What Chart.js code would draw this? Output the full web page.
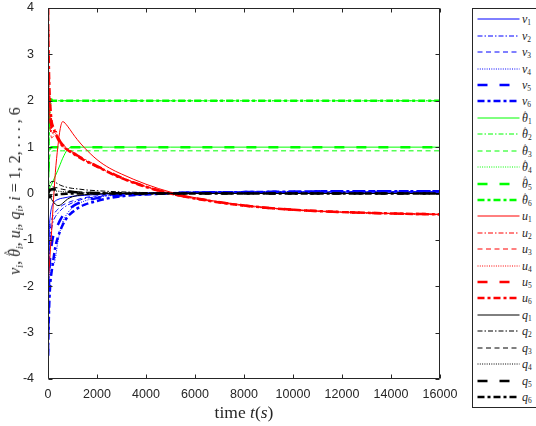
<!DOCTYPE html>
<html><head><meta charset="utf-8">
<script src="https://cdn.jsdelivr.net/npm/chart.js@4/dist/chart.umd.min.js"></script>
<style>
html,body{margin:0;padding:0;background:#fff;}
#wrap{position:relative;width:536px;height:426px;overflow:hidden;}
#c{position:absolute;left:0;top:0;}
.math{font-family:"Liberation Serif","DejaVu Serif",serif;color:#262626;}
.math i{font-style:italic;}
.math sub{font-size:0.62em;vertical-align:-0.3em;line-height:0;}
#ylab{position:absolute;left:15px;top:191px;transform:translate(-50%,-50%) rotate(-90deg);white-space:nowrap;font-size:16px;}
#xlab{position:absolute;left:244px;top:412px;transform:translate(-50%,-50%);white-space:nowrap;font-size:17.5px;}
#leg{position:absolute;left:472px;top:8px;width:80px;height:400px;border:1px solid #262626;box-sizing:border-box;background:#fff;}
.row{position:absolute;left:0;width:78px;height:16px;}
.row svg{position:absolute;left:4px;top:0;}
.row span.lab{position:absolute;left:49px;top:0;line-height:16px;font-size:12px;white-space:nowrap;}
.hat{position:relative;display:inline-block;}
.hat::before{content:"^";position:absolute;left:1px;top:-0.45em;font-style:normal;font-size:0.75em;}
</style></head>
<body><div id="wrap">
<canvas id="c" width="536" height="426"></canvas>
<div id="ylab" class="math"><i>v<sub>i</sub></i>, <i><span class="hat">&#952;</span><sub>i</sub></i>, <i>u<sub>i</sub></i>, <i>q<sub>i</sub></i>, <i>i</i> = 1, 2, . . . , 6</div>
<div id="xlab" class="math">time <i>t</i>(<i>s</i>)</div>
<div id="leg"></div>
</div>
<script>
// time samples (s)
const t = [0, 20, 50, 100, 150, 200, 300, 400, 500, 600, 800, 1000, 1200, 1500, 2000, 2500, 3000, 4000, 5000, 6000, 8000, 10000, 12000, 14000, 16000];

// v_i
const v1 = [-3.5, -2.0, -0.9, -0.45, -0.3, -0.22, -0.16, -0.13, -0.11, -0.1, -0.08, -0.06, -0.05, -0.04, -0.02, -0.01, 0, 0.01, 0.02, 0.02, 0.03, 0.03, 0.03, 0.03, 0.03];
const v2 = [-3.5, -2.4, -1.5, -0.95, -0.75, -0.62, -0.5, -0.43, -0.37, -0.32, -0.25, -0.2, -0.16, -0.11, -0.07, -0.04, -0.02, 0.0, 0.02, 0.03, 0.03, 0.04, 0.04, 0.04, 0.04];
const v3 = [-3.5, -2.2, -1.25, -0.75, -0.58, -0.48, -0.4, -0.34, -0.29, -0.25, -0.2, -0.16, -0.13, -0.09, -0.05, -0.03, -0.01, 0.01, 0.02, 0.03, 0.03, 0.03, 0.03, 0.03, 0.03];
const v4 = [-3.5, -2.8, -2.0, -1.6, -1.5, -1.55, -1.4, -1.05, -0.8, -0.62, -0.42, -0.31, -0.23, -0.16, -0.09, -0.05, -0.02, 0.01, 0.02, 0.03, 0.04, 0.04, 0.04, 0.04, 0.04];
const v5 = [-3.5, -2.6, -1.8, -1.3, -1.1, -0.95, -0.8, -0.68, -0.57, -0.48, -0.36, -0.28, -0.22, -0.16, -0.1, -0.06, -0.04, -0.01, 0.01, 0.02, 0.03, 0.04, 0.05, 0.05, 0.05];
const v6 = [-3.5, -3.0, -2.4, -1.9, -1.68, -1.5, -1.15, -0.95, -0.8, -0.68, -0.5, -0.4, -0.32, -0.24, -0.16, -0.1, -0.06, -0.02, 0.0, 0.02, 0.03, 0.04, 0.05, 0.05, 0.05];

// theta-hat_i
const th1 = [0.05, 0.07, 0.1, 0.15, 0.2, 0.26, 0.38, 0.5, 0.63, 0.76, 0.95, 1.0, 1.0, 1.0, 1.0, 1.0, 1.0, 1.0, 1.0, 1.0, 1.0, 1.0, 1.0, 1.0, 1.0];
const th2 = [0, 0.9, 1.6, 1.95, 2.02, 2.0, 2.0, 2.0, 2.0, 2.0, 2.0, 2.0, 2.0, 2.0, 2.0, 2.0, 2.0, 2.0, 2.0, 2.0, 2.0, 2.0, 2.0, 2.0, 2.0];
const th3 = [0, 0.4, 0.7, 0.86, 0.9, 0.92, 0.92, 0.92, 0.92, 0.92, 0.92, 0.92, 0.92, 0.92, 0.92, 0.92, 0.92, 0.92, 0.92, 0.92, 0.92, 0.92, 0.92, 0.92, 0.92];
const th4 = [0, 0.7, 1.4, 1.85, 1.97, 2.0, 2.0, 2.0, 2.0, 2.0, 2.0, 2.0, 2.0, 2.0, 2.0, 2.0, 2.0, 2.0, 2.0, 2.0, 2.0, 2.0, 2.0, 2.0, 2.0];
const th5 = [0, 0.5, 0.85, 0.98, 1.0, 1.0, 1.0, 1.0, 1.0, 1.0, 1.0, 1.0, 1.0, 1.0, 1.0, 1.0, 1.0, 1.0, 1.0, 1.0, 1.0, 1.0, 1.0, 1.0, 1.0];
const th6 = [0, 1.1, 1.85, 2.05, 2.02, 2.0, 2.0, 2.0, 2.0, 2.0, 2.0, 2.0, 2.0, 2.0, 2.0, 2.0, 2.0, 2.0, 2.0, 2.0, 2.0, 2.0, 2.0, 2.0, 2.0];

// u_i
const u1 = [-2, -1.85, -1.6, -1.2, -0.8, -0.35, 0.45, 1.0, 1.4, 1.55, 1.45, 1.3, 1.16, 0.98, 0.73, 0.55, 0.42, 0.2, 0.03, -0.09, -0.25, -0.35, -0.4, -0.43, -0.45];
const u2 = [4, 2.8, 2.0, 1.5, 1.3, 1.3, 1.38, 1.25, 1.13, 1.06, 0.97, 0.9, 0.83, 0.74, 0.6, 0.47, 0.35, 0.16, 0.01, -0.1, -0.26, -0.35, -0.4, -0.43, -0.45];
const u3 = [4, 2.6, 1.8, 1.35, 1.2, 1.22, 1.3, 1.2, 1.1, 1.03, 0.95, 0.88, 0.81, 0.72, 0.58, 0.46, 0.34, 0.15, 0.0, -0.11, -0.26, -0.35, -0.4, -0.43, -0.45];
const u4 = [4, 3.0, 2.2, 1.6, 1.35, 1.3, 1.25, 1.15, 1.07, 1.0, 0.93, 0.86, 0.8, 0.71, 0.57, 0.45, 0.33, 0.14, 0.0, -0.11, -0.27, -0.36, -0.41, -0.44, -0.46];
const u5 = [4, 2.9, 2.1, 1.7, 1.45, 1.4, 1.35, 1.22, 1.12, 1.05, 0.96, 0.89, 0.82, 0.73, 0.59, 0.46, 0.34, 0.15, 0.0, -0.1, -0.26, -0.35, -0.4, -0.43, -0.45];
const u6 = [4, 3.2, 2.4, 1.85, 1.55, 1.45, 1.3, 1.18, 1.09, 1.02, 0.94, 0.87, 0.8, 0.71, 0.58, 0.45, 0.33, 0.14, 0.0, -0.11, -0.26, -0.35, -0.4, -0.43, -0.45];

// q_i
const q1 = [0, -0.02, -0.04, -0.08, -0.13, -0.17, -0.23, -0.26, -0.25, -0.21, -0.12, -0.07, -0.045, -0.025, -0.01, 0, 0, 0, 0, 0, 0, 0, 0, 0, 0];
const q2 = [0, 0.06, 0.15, 0.23, 0.26, 0.26, 0.24, 0.21, 0.18, 0.16, 0.13, 0.11, 0.1, 0.08, 0.06, 0.045, 0.035, 0.02, 0.01, 0.006, 0.003, 0.002, 0.001, 0, 0];
const q3 = [0, 0.03, 0.08, 0.12, 0.14, 0.14, 0.13, 0.12, 0.1, 0.09, 0.07, 0.05, 0.04, 0.03, 0.02, 0.015, 0.01, 0.005, 0, 0, 0, 0, 0, 0, 0];
const q4 = [0, 0.02, 0.04, 0.05, 0.06, 0.06, 0.055, 0.05, 0.045, 0.04, 0.03, 0.025, 0.02, 0.015, 0.01, 0.005, 0, 0, 0, 0, 0, 0, 0, 0, 0];
const q5 = [0, 0.02, 0.05, 0.08, 0.09, 0.09, 0.085, 0.075, 0.065, 0.055, 0.04, 0.03, 0.025, 0.02, 0.012, 0.008, 0.005, 0, 0, 0, 0, 0, 0, 0, 0];
const q6 = [0, -0.05, -0.08, -0.07, -0.05, -0.04, -0.03, -0.02, -0.015, -0.01, -0.005, 0, 0, 0, 0, 0, 0, 0, 0, 0, 0, 0, 0, 0, 0];

const xTicks = [0, 2000, 4000, 6000, 8000, 10000, 12000, 14000, 16000];
const yTicks = [-4, -3, -2, -1, 0, 1, 2, 3, 4];

// line styles (MATLAB-like)
const lineStyles = [
  {w: 1,   dash: []},
  {w: 1,   dash: [5, 2, 1.5, 2]},
  {w: 1,   dash: [5, 3.5]},
  {w: 1,   dash: [1, 1.3]},
  {w: 2.5, dash: [10, 12]},
  {w: 2.5, dash: [7, 3, 3, 3]}
];

const groups = [
  {sym: 'v', hat: false, color: '#0000ff', data: [v1, v2, v3, v4, v5, v6]},
  {sym: '\u03b8', hat: true,  color: '#00ff00', data: [th1, th2, th3, th4, th5, th6]},
  {sym: 'u', hat: false, color: '#ff0000', data: [u1, u2, u3, u4, u5, u6]},
  {sym: 'q', hat: false, color: '#000000', data: [q1, q2, q3, q4, q5, q6]}
];

const datasets = [];
const legendItems = [];
let idx = 0;
groups.forEach(g => {
  g.data.forEach((arr, k) => {
    const st = lineStyles[k];
    datasets.push({
      label: g.sym + (k + 1),
      data: t.map((x, i) => ({x: x, y: arr[i]})),
      borderColor: g.color,
      borderWidth: st.w,
      borderDash: st.dash,
      pointRadius: 0,
      fill: false,
      cubicInterpolationMode: 'monotone',
      order: 100 - idx
    });
    legendItems.push({g: g, k: k, st: st});
    idx++;
  });
});

const framePlugin = {
  id: 'frame',
  afterDraw(chart) {
    const {ctx, chartArea: a, scales: {x, y}} = chart;
    ctx.save();
    ctx.strokeStyle = '#262626';
    ctx.lineWidth = 1;
    const L = Math.round(a.left) + 0.5, R = Math.round(a.right) - 0.5;
    const T = Math.round(a.top) + 0.5, B = Math.round(a.bottom) - 0.5;
    ctx.beginPath();
    ctx.rect(L, T, R - L, B - T);
    const tl = 4;
    xTicks.forEach(v => {
      const px = Math.round(x.getPixelForValue(v)) + 0.5;
      ctx.moveTo(px, B); ctx.lineTo(px, B - tl);
      ctx.moveTo(px, T); ctx.lineTo(px, T + tl);
    });
    yTicks.forEach(v => {
      const py = Math.round(y.getPixelForValue(v)) + 0.5;
      ctx.moveTo(L, py); ctx.lineTo(L + tl, py);
      ctx.moveTo(R, py); ctx.lineTo(R - tl, py);
    });
    ctx.stroke();
    ctx.restore();
  }
};

const tickFont = {family: 'Liberation Sans, Arial, sans-serif', size: 12.5};

new Chart(document.getElementById('c'), {
  type: 'line',
  data: {datasets: datasets},
  options: {
    responsive: false,
    animation: false,
    devicePixelRatio: 1,
    layout: {padding: {left: 0, right: 96, top: 8, bottom: 0}},
    plugins: {legend: {display: false}, tooltip: {enabled: false}},
    scales: {
      x: {
        type: 'linear', min: 0, max: 16000,
        afterBuildTicks: s => { s.ticks = xTicks.map(v => ({value: v})); },
        afterFit: s => { s.height = 47; s.paddingLeft = 0; s.paddingRight = 0; },
        grid: {display: false}, border: {display: false},
        ticks: {padding: 0, color: '#262626', font: tickFont, callback: v => String(v), maxRotation: 0, autoSkip: false}
      },
      y: {
        type: 'linear', min: -4, max: 4,
        afterBuildTicks: s => { s.ticks = yTicks.map(v => ({value: v})); },
        afterFit: s => { s.width = 48; s.paddingTop = 0; s.paddingBottom = 0; },
        grid: {display: false}, border: {display: false},
        ticks: {padding: 6, color: '#262626', font: tickFont, callback: v => String(v)}
      }
    }
  },
  plugins: [framePlugin]
});

// HTML legend
const leg = document.getElementById('leg');
legendItems.forEach((it, i) => {
  const row = document.createElement('div');
  row.className = 'row math';
  row.style.top = (2.3 + 16.42 * i) + 'px';
  const dash = it.st.dash.length ? it.st.dash.join(' ') : 'none';
  row.innerHTML = '<svg width="43" height="16"><line x1="0.5" y1="8" x2="42.5" y2="8" stroke="' + it.g.color +
    '" stroke-width="' + it.st.w + '" stroke-dasharray="' + dash + '"/></svg>' +
    '<span class="lab"><i>' + (it.g.hat ? '<span class="hat">' + it.g.sym + '</span>' : it.g.sym) + '</i><sub>' + (it.k + 1) + '</sub></span>';
  leg.appendChild(row);
});
</script>
</body></html>
